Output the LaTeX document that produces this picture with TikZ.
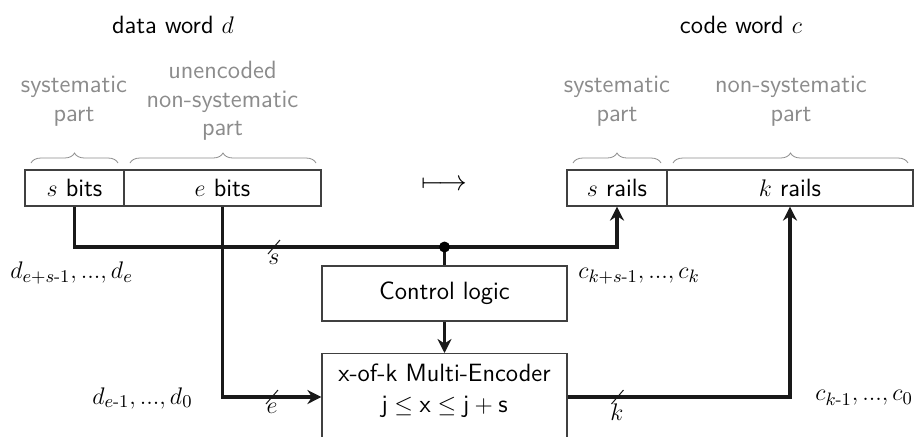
\documentclass[tikz,border=0pt]{standalone}
\usepackage{amsmath}
\usepackage{fontspec}
\usetikzlibrary{arrows.meta,decorations.pathreplacing,calc}

\begin{document}
\begin{tikzpicture}[x=0.5pt,y=-0.5pt,
  font=\fontsize{12.5}{14.3}\selectfont\sffamily,
  box/.style={draw=black!75,line width=0.6pt,rectangle,inner sep=0pt},
  wire/.style={line width=1.9pt,black!90},
  arr/.style={wire,-{Stealth[length=7pt,width=7pt]}},
  graytxt/.style={text=black!45,align=center},
  brc/.style={draw=black!45,line width=0.4pt,
    decorate,decoration={brace,amplitude=5pt}},
  busslash/.style={line width=0.5pt,black!90},
  buslbl/.style={inner sep=0pt}]
\useasboundingbox (0,0) rectangle (918,436);

% titles
\node (dtitle) at (173,25) {data word $d$};
\node (ctitle) at (741,25) {code word $c$};

% data word register
\node[box,minimum width=49.5pt,minimum height=18pt] (sbits) at (74.5,188) {$s$ bits};
\node[box,minimum width=98.5pt,minimum height=18pt] (ebits) at (222.5,188) {$e$ bits};

% code word register
\node[box,minimum width=50pt,minimum height=18pt] (srails) at (617,188) {$s$ rails};
\node[box,minimum width=123pt,minimum height=18pt] (krails) at (790,188) {$k$ rails};

% mapping symbol
\node (maps) at (444.5,185) {\fontsize{14.5}{16}\selectfont$\longmapsto$};

% part descriptions
\node[graytxt] (dsys) at (74,101) {systematic\\part};
\node[graytxt] (dnon) at (222.5,101) {unencoded\\non-systematic\\part};
\node[graytxt] (csys) at (617,101) {systematic\\part};
\node[graytxt] (cnon) at (791,101) {non-systematic\\part};

% braces over the fields
\draw[brc] (31,163) -- (118,163);
\draw[brc] (130,163) -- (316,163);
\draw[brc] (573,163) -- (661,163);
\draw[brc] (673,163) -- (908,163);

% logic blocks
\node[box,minimum width=122.5pt,minimum height=27.5pt] (ctrl) at (444.5,293.5) {Control logic};
\node[box,minimum width=122.5pt,minimum height=55pt,anchor=north] (enc) at (444.5,353) {};
\node[align=center,inner sep=0pt] (enctxt) at (444.5,391)
  {x-of-k Multi-Encoder\\[1pt]$\mathsf{j}\leq\mathsf{x}\leq\mathsf{j}+\mathsf{s}$};

% junction and port points
\coordinate (j) at (444.5,247);
\coordinate (ein) at (enc.west |- 0,397);
\coordinate (eout) at (enc.east |- 0,397);

% systematic bits: straight through, tapped by control logic
\draw[arr] (sbits.south) |- (j) -| (srails.south);
\draw[wire] (j) -- (ctrl.north);
\fill (j) circle (5.5);
\draw[arr] (ctrl.south) -- (enc.north);

% remaining bits through the encoder
\draw[arr] (ebits.south) |- (ein);
\draw[arr] (eout) -| (krails.south);

% bus width markers
\coordinate (sl1) at (274,247);
\coordinate (sl2) at (272,397);
\coordinate (sl3) at (617.5,397);
\draw[busslash] ($(sl1)+(-6,7)$) -- ($(sl1)+(6,-7)$);
\draw[busslash] ($(sl2)+(-6,7)$) -- ($(sl2)+(6,-7)$);
\draw[busslash] ($(sl3)+(-6,7)$) -- ($(sl3)+(6,-7)$);
\node[buslbl] (sl1l) at (274,259) {$s$};
\node[buslbl] (sl2l) at (272,408) {$e$};
\node[buslbl] (sl3l) at (617,412) {$k$};

% signal index ranges
\node[anchor=west,inner sep=0pt] (dhi) at (10,273) {$d_{e+s\text{-}1}, ..., d_e$};
\node[anchor=west,inner sep=0pt] (dlo) at (92,398) {$d_{e\text{-}1}, ..., d_0$};
\node[anchor=west,inner sep=0pt] (chi) at (578,276) {$c_{k+s\text{-}1}, ..., c_k$};
\node[anchor=west,inner sep=0pt] (clo) at (815,398) {$c_{k\text{-}1}, ..., c_0$};
\end{tikzpicture}
\end{document}
